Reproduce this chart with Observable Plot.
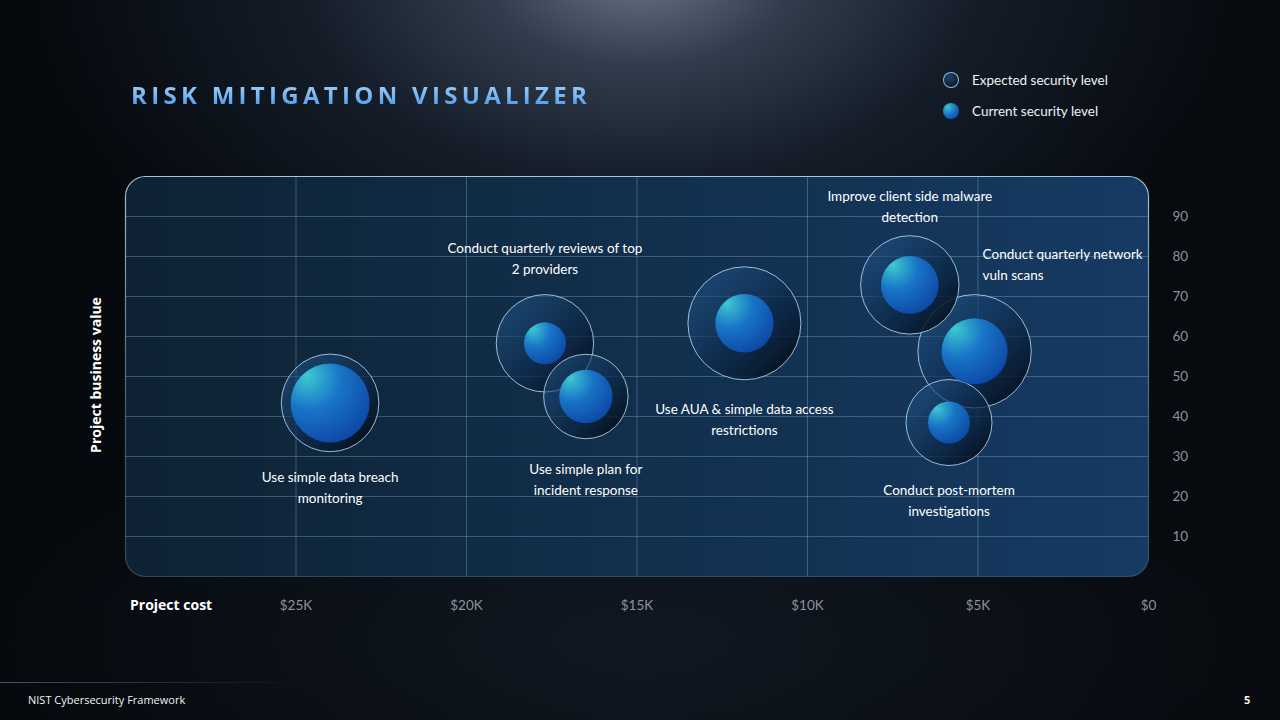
<!DOCTYPE html>
<html>
<head>
<meta charset="utf-8">
<script src="https://cdn.jsdelivr.net/npm/d3@7"></script>
<script src="https://cdn.jsdelivr.net/npm/@observablehq/plot@0.6"></script>
<style>
  html, body { margin: 0; padding: 0; width: 1280px; height: 720px; overflow: hidden; background: #05080b; }
  #stage {
    position: relative; width: 1280px; height: 720px; overflow: hidden;
    font-family: Lato, "Open Sans", sans-serif;
    background:
      radial-gradient(ellipse 620px 380px at 640px -30px, rgba(112,124,142,0.95) 0%, rgba(66,80,100,0.7) 25%, rgba(32,44,62,0.5) 55%, rgba(10,16,24,0) 100%),
      radial-gradient(ellipse 700px 200px at 640px 640px, rgba(30,40,55,0.35) 0%, rgba(10,14,20,0) 100%),
      linear-gradient(90deg, #05080c 0%, #0a0f16 50%, #06090d 100%);
  }
  #chart { position: absolute; left: 0; top: 0; }
  .title {
    position: absolute; left: 131px; top: 79px; font-family: "Open Sans", Lato, sans-serif;
    font-weight: 700; font-size: 24px; letter-spacing: 4.3px; line-height: 32px;
    background: linear-gradient(180deg, #b3d9fa 0%, #7ab8f2 50%, #3f8ce8 100%);
    -webkit-background-clip: text; background-clip: text; color: transparent;
  }
  .legend { position: absolute; left: 943px; top: 70px; color: #eef2f6; font-size: 13.5px; }
  .legend .row { position: relative; height: 31px; line-height: 20px; padding-left: 29px; }
  .legend .sw { position: absolute; left: 0; top: 2px; width: 16px; height: 16px; border-radius: 50%; box-sizing: border-box; }
  .sw.exp { background: radial-gradient(circle at 35% 30%, #1d4670, #0a1a2e 75%); border: 1px solid rgba(170,210,235,0.85); }
  .sw.cur { background: radial-gradient(circle at 30% 25%, #38c2cf 0%, #1670c6 50%, #0a3f9f 100%); }
  .axlab { position: absolute; color: #ffffff; font-weight: 700; font-size: 14px; font-family: "Open Sans", Lato, sans-serif; white-space: nowrap; }
  .footer { position: absolute; top: 692px; color: #f2f2f2; font-size: 11px; font-family: "Open Sans", Lato, sans-serif; }
  .fline { position: absolute; left: 0; top: 682px; width: 300px; height: 1px; background: linear-gradient(90deg, rgba(120,130,145,0.6), rgba(120,130,145,0)); }
</style>
</head>
<body>
<div id="stage">
  <div id="chart"></div>
  <div class="title">RISK MITIGATION VISUALIZER</div>
  <div class="legend">
    <div class="row"><span class="sw exp"></span>Expected security level</div>
    <div class="row"><span class="sw cur"></span>Current security level</div>
  </div>
  <div class="axlab" style="left:130px; top:595px;">Project cost</div>
  <div class="axlab" style="left:95px; top:375px; transform: translate(-50%,-50%) rotate(-90deg);">Project business value</div>
  <div class="fline"></div>
  <div class="footer" style="left:28px;">NIST Cybersecurity Framework</div>
  <div class="footer" style="left:1244px; font-weight:700;">5</div>
</div>
<script>
// ---- data ----
const initiatives = [
  "Use simple data breach\nmonitoring",
  "Conduct quarterly reviews of top\n2 providers",
  "Use simple plan for\nincident response",
  "Use AUA & simple data access\nrestrictions",
  "Improve client side malware\ndetection",
  "Conduct quarterly network\nvuln scans",
  "Conduct post-mortem\ninvestigations"
];
const projectCost = [24000, 17700, 16500, 11850, 7000, 5100, 5850];
const businessValue = [43.4, 58.3, 45.0, 63.3, 72.9, 56.3, 38.5];
const expectedLevel = [48.8, 48.7, 42.2, 56.5, 49.2, 56.7, 43.0];
const currentLevel = [39.5, 21.0, 26.7, 29.2, 28.8, 33.0, 21.0];
const xTicks = [25000, 20000, 15000, 10000, 5000, 0];
const yTicks = [10, 20, 30, 40, 50, 60, 70, 80, 90];

// label placement (offsets relative to bubble centre)
const labelDx = [0, 0, 0, 0, 0, 8, 0];
const labelDy = [83, -86.5, 81.5, 94.5, -80, -88.3, 76.5];
const labelAnchor = ["middle", "middle", "middle", "middle", "middle", "start", "middle"];

const rows = initiatives.map((name, i) => ({
  name, cost: projectCost[i], value: businessValue[i],
  expected: expectedLevel[i], current: currentLevel[i],
  dx: labelDx[i], dy: labelDy[i], anchor: labelAnchor[i]
}));

const textMarks = rows.map(d => Plot.text([d], {
  x: "cost", y: "value", text: "name", dx: d.dx, dy: d.dy,
  textAnchor: d.anchor, lineAnchor: "middle", lineHeight: 1.58,
  fill: "#ffffff", fontSize: 13.5, fontFamily: "Lato, 'Open Sans', sans-serif"
}));

const svg = Plot.plot({
  width: 1280, height: 720,
  marginLeft: 125, marginRight: 132, marginTop: 176, marginBottom: 144,
  style: { background: "transparent", color: "#8d929c", fontSize: "13.5px", fontFamily: "Lato, 'Open Sans', sans-serif", overflow: "visible" },
  x: { domain: [30000, 0], ticks: xTicks, tickFormat: d => d === 0 ? "$0" : "$" + d / 1000 + "K", tickSize: 0, tickPadding: 24, label: null, axis: "bottom" },
  y: { domain: [0, 100], ticks: yTicks, tickSize: 0, tickPadding: 24, label: null, axis: "right" },
  r: { type: "linear", domain: [0, 100], range: [0, 100] },
  marks: [
    Plot.frame({ rx: 20, ry: 20, fill: "url(#frameFill)", stroke: "url(#frameStroke)", strokeWidth: 1.2 }),
    Plot.ruleX(xTicks.filter(t => t !== 0), { stroke: "rgba(150,195,225,0.32)", strokeWidth: 1 }),
    Plot.ruleY(yTicks, { stroke: "rgba(150,195,225,0.32)", strokeWidth: 1 }),
    Plot.dot(rows, { x: "cost", y: "value", r: "expected", fill: "url(#outerFill)", stroke: "rgba(175,215,235,0.85)", strokeWidth: 1 }),
    Plot.dot(rows, { x: "cost", y: "value", r: "current", fill: "url(#innerFill)", stroke: "none" }),
    ...textMarks
  ]
});

const defs = d3.select(svg).insert("defs", ":first-child");
function lin(id, x1, y1, x2, y2, stops) {
  const g = defs.append("linearGradient").attr("id", id)
    .attr("x1", x1).attr("y1", y1).attr("x2", x2).attr("y2", y2);
  stops.forEach(([o, c]) => g.append("stop").attr("offset", o).attr("stop-color", c));
}
lin("frameFill", 0, 0, 1, 0, [[0, "#0e2233"], [0.45, "#112e4a"], [1, "#163a63"]]);
lin("frameStroke", 0, 0, 0, 1, [[0, "rgba(175,220,235,0.9)"], [0.6, "rgba(130,180,210,0.45)"], [1, "rgba(110,160,200,0.35)"]]);
lin("outerFill", 0.1, 0.1, 0.95, 0.95, [[0, "rgba(34,86,138,0.55)"], [0.5, "rgba(14,44,78,0.7)"], [1, "rgba(3,10,20,0.95)"]]);
const rg = defs.append("radialGradient").attr("id", "innerFill")
  .attr("cx", 0.3).attr("cy", 0.25).attr("r", 0.95).attr("fx", 0.2).attr("fy", 0.15);
[[0, "#3ecad0"], [0.42, "#1874c7"], [1, "#0a3c9c"]].forEach(([o, c]) => rg.append("stop").attr("offset", o).attr("stop-color", c));

document.getElementById("chart").appendChild(svg);
</script>
</body>
</html>
